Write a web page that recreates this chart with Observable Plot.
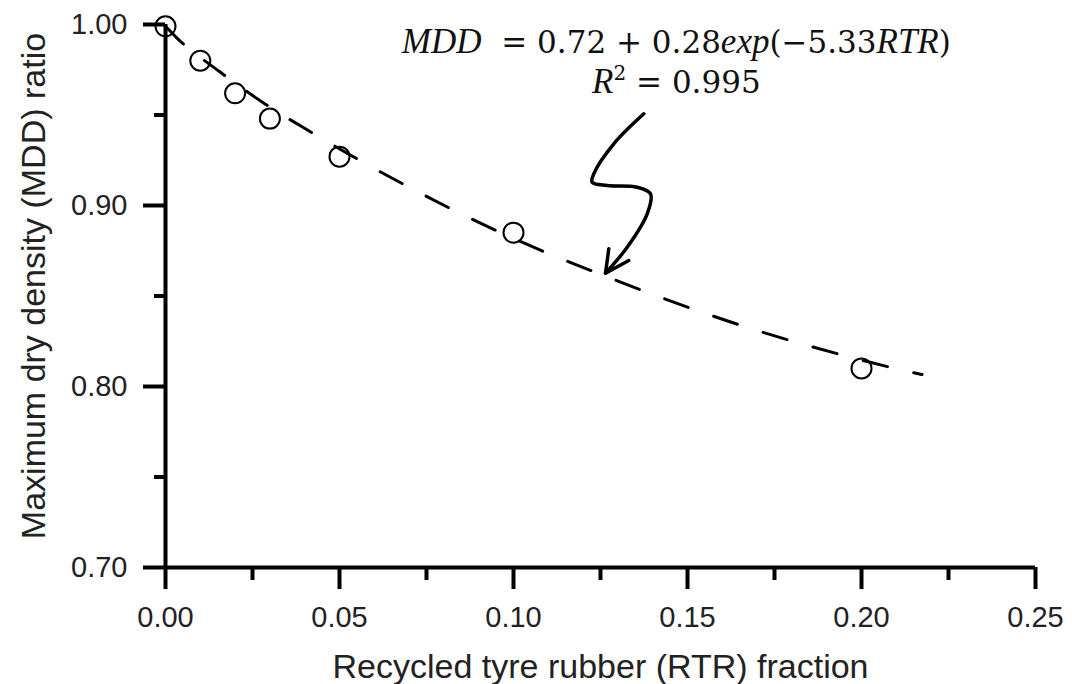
<!DOCTYPE html>
<html><head><meta charset="utf-8">
<script src="https://cdn.jsdelivr.net/npm/d3@7"></script>
<script src="https://cdn.jsdelivr.net/npm/@observablehq/plot@0.6"></script>
<style>
html,body{margin:0;padding:0;background:#fff;}
#chart{width:1072px;height:684px;}
</style></head><body><div id="chart"></div>
<script>
// Measured points (RTR fraction vs MDD ratio)
const rtr = [0, 0.01, 0.02, 0.03, 0.05, 0.10, 0.20];
const mdd = [0.999, 0.980, 0.962, 0.948, 0.927, 0.885, 0.810];
// Fitted curve
const fitRtr = [0, 0.0033, 0.0155, 0.0287, 0.0414, 0.0681, 0.0822, 0.1106, 0.125, 0.1398, 0.1542, 0.169, 0.1839, 0.2141, 0.2174];
const fitMdd = [0.999, 0.9925, 0.974, 0.956, 0.941, 0.912, 0.898, 0.873, 0.862, 0.851, 0.841, 0.8315, 0.823, 0.808, 0.8066];
// Ticks
const xMajor = [0, 0.05, 0.10, 0.15, 0.20, 0.25];
const xMinor = [0.025, 0.075, 0.125, 0.175, 0.225];
const yMajor = [0.70, 0.80, 0.90, 1.00];
const yMinor = [0.75, 0.85, 0.95];
// Texts
const xTitle = "Recycled tyre rubber (RTR) fraction";
const yTitle = "Maximum dry density (MDD) ratio";
const eqParts = [["MDD", "italic"], ["  = 0.72 + 0.28", "normal"], ["exp", "italic"], ["(\u22125.33", "normal"], ["RTR", "italic"], [")", "normal"]];
const r2Parts = [["R", "italic"], ["2", "sup"], [" = 0.995", "normal"]];
// Hand-drawn pointer (in data units)
const arrowRtr = [0.13744, 0.12882, 0.12307, 0.12261, 0.12693, 0.13555, 0.13937, 0.13842, 0.13267, 0.12644];
const arrowMdd = [0.95066, 0.93409, 0.91751, 0.91287, 0.91105, 0.91011, 0.90646, 0.89541, 0.87696, 0.8626];
const headRtr = [0.12739, 0.12644, 0.13313];
const headMdd = [0.87608, 0.8626, 0.86961];

const pts = rtr.map((x, i) => ({x, y: mdd[i]}));
const fit = fitRtr.map((x, i) => ({x, y: fitMdd[i]}));
const arrow = arrowRtr.map((x, i) => ({x, y: arrowMdd[i]}));
const head = headRtr.map((x, i) => ({x, y: headMdd[i]}));
const join = parts => parts.map(p => p[0]).join("");

const svg = Plot.plot({
  width: 1072, height: 684,
  marginLeft: 165, marginRight: 37, marginTop: 24, marginBottom: 117,
  style: {fontFamily: "'Liberation Sans', Arial, sans-serif", background: "#fff", color: "#000"},
  x: {domain: [0, 0.25]},
  y: {domain: [0.70, 1.00]},
  marks: [
    Plot.axisX(xMajor, {tickSize: 22, tickPadding: 17, strokeWidth: 4, tickFormat: d3.format(".2f"), fontSize: 29, fill: "#222", stroke: "#000", label: null}),
    Plot.axisX(xMinor, {tickSize: 13, strokeWidth: 4, tickFormat: () => "", stroke: "#000", label: null}),
    Plot.axisY(yMajor, {tickSize: 22, tickPadding: 16, strokeWidth: 4, tickFormat: d3.format(".2f"), fontSize: 29, fill: "#222", stroke: "#000", label: null}),
    Plot.axisY(yMinor, {tickSize: 11, strokeWidth: 4, tickFormat: () => "", stroke: "#000", label: null}),
    Plot.ruleY([0.70], {strokeWidth: 4, stroke: "#000"}),
    Plot.ruleX([0], {strokeWidth: 4, stroke: "#000"}),
    Plot.line(fit, {x: "x", y: "y", stroke: "#000", strokeWidth: 3, strokeDasharray: "25,27", curve: "monotone-x"}),
    Plot.dot(pts, {x: "x", y: "y", r: 10, stroke: "#000", strokeWidth: 2, fill: "none"}),
    Plot.line(arrow, {x: "x", y: "y", stroke: "#000", strokeWidth: 3.5, curve: "catmull-rom"}),
    Plot.line(head, {x: "x", y: "y", stroke: "#000", strokeWidth: 3.5, strokeLinejoin: "miter"}),
    Plot.text([join(eqParts)], {x: 0.1468, y: 0.9845, lineAnchor: "bottom", textAnchor: "middle", fontFamily: "'DejaVu Serif', serif", fontSize: 31, fill: "#111"}),
    Plot.text([join(r2Parts)], {x: 0.1468, y: 0.9619, lineAnchor: "bottom", textAnchor: "middle", fontFamily: "'DejaVu Serif', serif", fontSize: 31, fill: "#111"}),
    Plot.text([xTitle], {frameAnchor: "bottom", dy: 110, lineAnchor: "bottom", textAnchor: "middle", fontSize: 34, fill: "#222"}),
    Plot.text([yTitle], {frameAnchor: "left", rotate: -90, dx: -145, dy: -10, lineAnchor: "top", textAnchor: "middle", fontSize: 34, fill: "#222"})
  ]
});

function styleParts(parts) {
  const full = join(parts);
  const t = Array.from(svg.querySelectorAll("text")).find(e => e.textContent === full);
  if (!t) return;
  while (t.firstChild) t.removeChild(t.firstChild);
  t.setAttribute("xml:space", "preserve");
  t.style.whiteSpace = "pre";
  let shifted = false;
  for (const [s, st] of parts) {
    const ts = document.createElementNS("http://www.w3.org/2000/svg", "tspan");
    ts.textContent = s;
    if (st === "italic") {
      ts.setAttribute("font-style", "italic");
      ts.setAttribute("font-family", "'Liberation Serif', serif");
      ts.setAttribute("font-size", "35");
    } else if (st === "sup") {
      ts.setAttribute("font-size", "20");
      ts.setAttribute("dy", "-13");
      shifted = true;
    } else if (shifted) {
      ts.setAttribute("dy", "13");
      shifted = false;
    }
    t.appendChild(ts);
  }
}
styleParts(eqParts);
styleParts(r2Parts);
document.getElementById("chart").appendChild(svg);
</script></body></html>
